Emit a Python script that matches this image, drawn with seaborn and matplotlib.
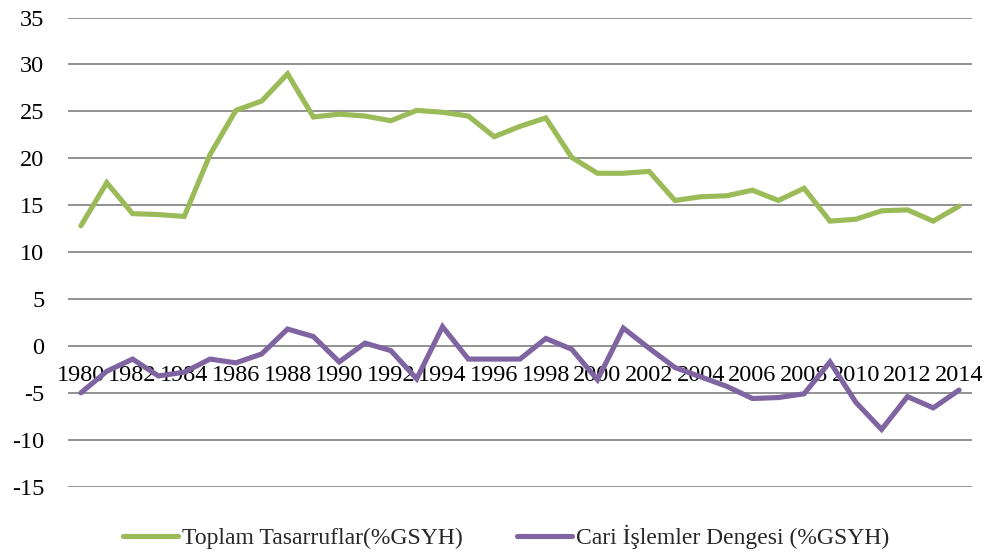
import numpy as np
import pandas as pd
import matplotlib
matplotlib.use("Agg")
import matplotlib.pyplot as plt
import seaborn as sns
from matplotlib.lines import Line2D

years = list(range(1980, 2015))
toplam_tasarruf = [12.8, 17.4, 14.1, 14.0, 13.8, 20.4, 25.1, 26.1, 29.0, 24.4,
                   24.7, 24.5, 24.0, 25.1, 24.9, 24.5, 22.3, 23.4, 24.3, 20.1,
                   18.4, 18.4, 18.6, 15.5, 15.9, 16.0, 16.6, 15.5, 16.8, 13.3,
                   13.5, 14.4, 14.5, 13.3, 14.9]
cari_denge = [-5.0, -2.7, -1.4, -3.2, -2.8, -1.4, -1.8, -0.85, 1.8, 1.0,
              -1.7, 0.3, -0.5, -3.5, 2.05, -1.4, -1.4, -1.4, 0.8, -0.35,
              -3.6, 1.9, -0.25, -2.3, -3.3, -4.3, -5.6, -5.5, -5.1, -1.7,
              -6.0, -8.9, -5.4, -6.6, -4.7]
series_names = ["Toplam Tasarruflar(%GSYH)", "Cari İşlemler Dengesi (%GSYH)"]
series_colors = ["#9BBB59", "#8064A2"]
y_ticks = [-15, -10, -5, 0, 5, 10, 15, 20, 25, 30, 35]
x_tick_years = list(range(1980, 2015, 2))

df = pd.DataFrame({
    "Yıl": years * 2,
    "Değer": toplam_tasarruf + cari_denge,
    "Seri": [series_names[0]] * len(years) + [series_names[1]] * len(years),
})

sns.set_theme(style="white")
plt.rcParams["font.family"] = ["Liberation Serif", "DejaVu Serif"]

fig = plt.figure(figsize=(9.87, 5.56), dpi=100)
ax = fig.add_axes([68 / 987, 1 - 486.7 / 556, (972 - 68) / 987, (486.7 - 17.5) / 556])

lw = 3.7
sns.lineplot(data=df, x="Yıl", y="Değer", hue="Seri", hue_order=series_names,
             palette=series_colors, linewidth=lw, ax=ax, legend=False,
             solid_capstyle="round", solid_joinstyle="miter")

ax.set_xlim(1979.5, 2014.5)
ax.set_ylim(-15, 35)
ax.set_yticks(y_ticks)
ax.set_yticklabels([str(v) for v in y_ticks])
ax.set_xticks(x_tick_years)
ax.set_xticklabels([str(v) for v in x_tick_years])
ax.set_xlabel("")
ax.set_ylabel("")

ax.yaxis.grid(True, color="#898989", linewidth=1.3)
ax.xaxis.grid(False)
ax.set_axisbelow(True)
for s in ["top", "right", "left"]:
    ax.spines[s].set_visible(False)
ax.spines["bottom"].set_position(("data", 0))
ax.spines["bottom"].set_visible(False)

ax.tick_params(axis="y", length=0, pad=17, labelsize=17.5, labelcolor="black")
ax.tick_params(axis="x", length=0, pad=14, labelsize=17.5, labelcolor="black")

handles = [Line2D([0], [0], color=c, linewidth=lw, solid_capstyle="round") for c in series_colors]
fig.legend(handles, series_names, loc="center", bbox_to_anchor=(506.5 / 987, 1 - 537 / 556),
           ncol=2, frameon=False, fontsize=17, handlelength=2.3, handletextpad=0.2,
           columnspacing=2.3)

fig.savefig("out.png", dpi=100)
